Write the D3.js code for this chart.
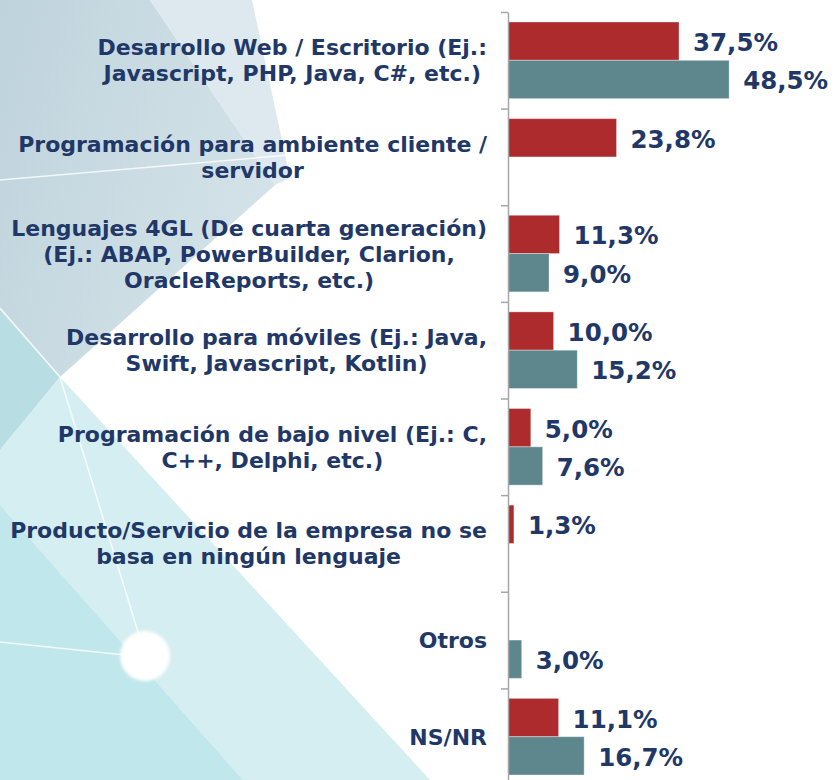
<!DOCTYPE html>
<html>
<head>
<meta charset="utf-8">
<script src="https://cdn.jsdelivr.net/npm/d3@7"></script>
<style>
  html, body { margin: 0; padding: 0; background: #fff; }
  svg { display: block; }
</style>
</head>
<body>
<div id="chart"></div>
<script>
// Kategorien (von oben nach unten)
const categories = [
  ["Desarrollo Web / Escritorio (Ej.:", "Javascript, PHP, Java, C#, etc.)"],
  ["Programación para ambiente cliente /", "servidor"],
  ["Lenguajes 4GL (De cuarta generación)", "(Ej.: ABAP, PowerBuilder, Clarion,", "OracleReports, etc.)"],
  ["Desarrollo para móviles (Ej.: Java,", "Swift, Javascript, Kotlin)"],
  ["Programación de bajo nivel (Ej.: C,", "C++, Delphi, etc.)"],
  ["Producto/Servicio de la empresa no se", "basa en ningún lenguaje"],
  ["Otros "],
  ["NS/NR"]
];
const seriesNames = ["rojo", "verde"];
const valuesRojo  = [37.5, 23.8, 11.3, 10.0, 5.0, 1.3, null, 11.1];
const valuesVerde = [48.5, null, 9.0, 15.2, 7.6, null, 3.0, 16.7];
const seriesColors = ["#ad2b2c", "#5e878d"];

const width = 835, height = 780;
const textColor = "#1f3868";
const font = "'DejaVu Sans', sans-serif";

const svg = d3.select("#chart").append("svg")
  .attr("width", width)
  .attr("height", height);

// Hintergrund-Dekoration
const defs = svg.append("defs");
const g1 = defs.append("linearGradient").attr("id", "bgTop")
  .attr("x1", "0%").attr("y1", "0%").attr("x2", "100%").attr("y2", "40%");
g1.append("stop").attr("offset", "0%").attr("stop-color", "#bfd3dc");
g1.append("stop").attr("offset", "100%").attr("stop-color", "#d3e2e8");
const blur = defs.append("filter").attr("id", "soft");
blur.append("feGaussianBlur").attr("stdDeviation", 1.5);

const bg = svg.append("g");
const shapes = [
  { p: "0,0 150,0 275,185 60,377 0,310", f: "url(#bgTop)" },
  { p: "150,0 252,0 290,178 275,185", f: "#dde9ee" },
  { p: "0,310 60,377 0,450", f: "#b8dee3" },
  { p: "60,377 430,780 243,780 0,505 0,450", f: "#d5eef1" },
  { p: "0,505 243,780 0,780", f: "#c0e7eb" }
];
bg.selectAll("polygon").data(shapes).join("polygon")
  .attr("points", d => d.p)
  .attr("fill", d => d.f);
const lines = [[0, 180, 290, 155], [0, 308, 60, 377], [60, 377, 145, 655], [0, 642, 145, 657]];
bg.selectAll("line").data(lines).join("line")
  .attr("x1", d => d[0]).attr("y1", d => d[1])
  .attr("x2", d => d[2]).attr("y2", d => d[3])
  .attr("stroke", "#ffffff").attr("stroke-width", 1.5).attr("opacity", 0.8);
bg.append("circle").attr("cx", 145).attr("cy", 656).attr("r", 25)
  .attr("fill", "#ffffff").attr("filter", "url(#soft)");

// Skalen
const axisX = 508;
const y = d3.scaleBand()
  .domain(d3.range(categories.length))
  .range([12, 785])
  .paddingInner(0)
  .paddingOuter(0);
const ySub = d3.scaleBand()
  .domain(seriesNames)
  .range([10, y.bandwidth() - 10]);
const x = d3.scaleLinear().domain([0, 100]).range([axisX, axisX + 456]);

const data = categories.map((c, i) => ({
  index: i,
  lines: c,
  values: [valuesRojo[i], valuesVerde[i]]
}));

// Balken
const groups = svg.append("g").selectAll("g.cat")
  .data(data).join("g")
  .attr("class", "cat")
  .attr("transform", d => `translate(0,${y(d.index)})`);

const fmt = v => v.toFixed(1).replace(".", ",") + "%";

groups.each(function(d) {
  const g = d3.select(this);
  const items = seriesNames.map((s, k) => ({ s, k, v: d.values[k] })).filter(e => e.v != null);
  g.selectAll("rect").data(items).join("rect")
    .attr("x", x(0))
    .attr("y", e => ySub(e.s))
    .attr("width", e => x(e.v) - x(0))
    .attr("height", ySub.bandwidth())
    .attr("fill", e => seriesColors[e.k])
    .attr("stroke", "rgba(255,255,255,0.35)")
    .attr("stroke-width", 1);
  g.selectAll("text.val").data(items).join("text")
    .attr("class", "val")
    .attr("x", e => x(e.v) + 14)
    .attr("y", e => ySub(e.s) + ySub.bandwidth() / 2 + 10)
    .attr("fill", textColor)
    .style("font-family", font)
    .style("font-weight", "bold")
    .style("font-size", "24.5px")
    .text(e => fmt(e.v));
});

// Achse mit Ticks an den Kategoriegrenzen
const yEdge = d3.scaleLinear().domain([0, categories.length]).range(y.range());
svg.append("g")
  .attr("transform", `translate(${axisX},0)`)
  .call(d3.axisLeft(yEdge).tickValues(d3.range(categories.length)).tickSize(7).tickSizeOuter(0).tickFormat(""))
  .call(g => g.selectAll("line, path").attr("stroke", "#a6a6a6").attr("stroke-width", 1.5));

// Kategorie-Beschriftungen (zentriert, rechtsbündig am Block)
const labelRight = 487;
const lineH = 26;
groups.each(function(d) {
  const g = d3.select(this);
  const n = d.lines.length;
  const cy = y.bandwidth() / 2;
  const t = g.append("text")
    .attr("fill", textColor)
    .style("font-family", font)
    .style("font-weight", "bold")
    .style("font-size", "22px")
    .attr("text-anchor", "middle");
  const spans = d.lines.map((l, i) => t.append("tspan")
    .attr("y", cy + (i - (n - 1) / 2) * lineH + 8)
    .text(l));
  const maxW = d3.max(spans, s => s.node().getComputedTextLength());
  spans.forEach(s => s.attr("x", labelRight - maxW / 2));
});
</script>
</body>
</html>
